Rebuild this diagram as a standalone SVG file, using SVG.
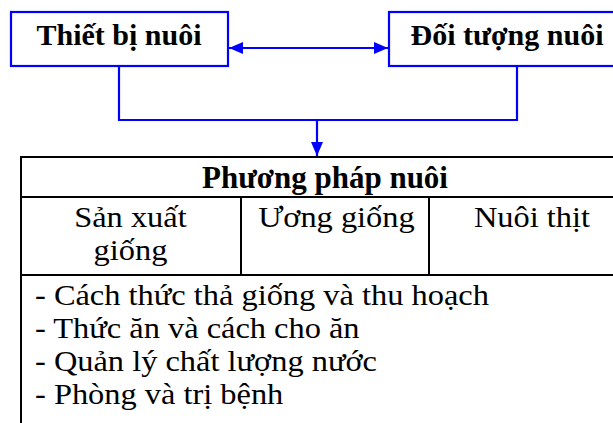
<svg xmlns="http://www.w3.org/2000/svg" width="613" height="423" viewBox="0 0 613 423">
<style>
.box{fill:#fff;stroke:#0000ff;stroke-width:2.2}
.conn{fill:none;stroke:#0000ff;stroke-width:2.2}
.tbl{fill:none;stroke:#000;stroke-width:2}
.tb{font-family:"Liberation Serif","Times New Roman",serif;font-weight:bold;font-size:30px;fill:#000}
.tr{font-family:"Liberation Serif","Times New Roman",serif;font-size:30px;fill:#000}
</style>
<defs>
<marker id="ah" viewBox="0 0 14 12" refX="14" refY="6" markerWidth="14" markerHeight="12" markerUnits="userSpaceOnUse" orient="auto-start-reverse">
<path d="M0,0 L14,6 L0,12 Z" fill="#0000ff"/>
</marker>
</defs>
<rect width="613" height="423" fill="#fff"/>
<g id="connectors">
<line class="conn" x1="229" y1="48" x2="388" y2="48" marker-start="url(#ah)" marker-end="url(#ah)"/>
<polyline class="conn" points="119,67 119,120 517,120 517,67"/>
<line class="conn" x1="317" y1="120" x2="317" y2="156" marker-end="url(#ah)"/>
</g>
<g id="thiet-bi-nuoi">
<rect class="box" x="11" y="12" width="217" height="54"/>
<text class="tb" x="119" y="45" text-anchor="middle">Thiết bị nuôi</text>
</g>
<g id="doi-tuong-nuoi">
<rect class="box" x="389" y="12" width="240" height="54"/>
<text class="tb" x="507" y="45" text-anchor="middle">Đối tượng nuôi</text>
</g>
<g id="phuong-phap-nuoi">
<rect class="tbl" x="21" y="157" width="608" height="300"/>
<line class="tbl" x1="21" y1="197" x2="629" y2="197"/>
<line class="tbl" x1="21" y1="275" x2="629" y2="275"/>
<line class="tbl" x1="241" y1="197" x2="241" y2="275"/>
<line class="tbl" x1="429" y1="197" x2="429" y2="275"/>
<text class="tb" x="325" y="188" text-anchor="middle" style="font-size:31px">Phương pháp nuôi</text>
<g transform="scale(1.08,1)">
<text class="tr" x="120.8" y="227" text-anchor="middle">Sản xuất</text>
<text class="tr" x="120.8" y="260" text-anchor="middle">giống</text>
<text class="tr" x="311.5" y="227" text-anchor="middle">Ương giống</text>
<text class="tr" x="492.6" y="227" text-anchor="middle">Nuôi thịt</text>
<text class="tr" x="32.4" y="305">- Cách thức thả giống và thu hoạch</text>
<text class="tr" x="32.4" y="338">- Thức ăn và cách cho ăn</text>
<text class="tr" x="32.4" y="371">- Quản lý chất lượng nước</text>
<text class="tr" x="32.4" y="404">- Phòng và trị bệnh</text>
</g>
</g>
</svg>
